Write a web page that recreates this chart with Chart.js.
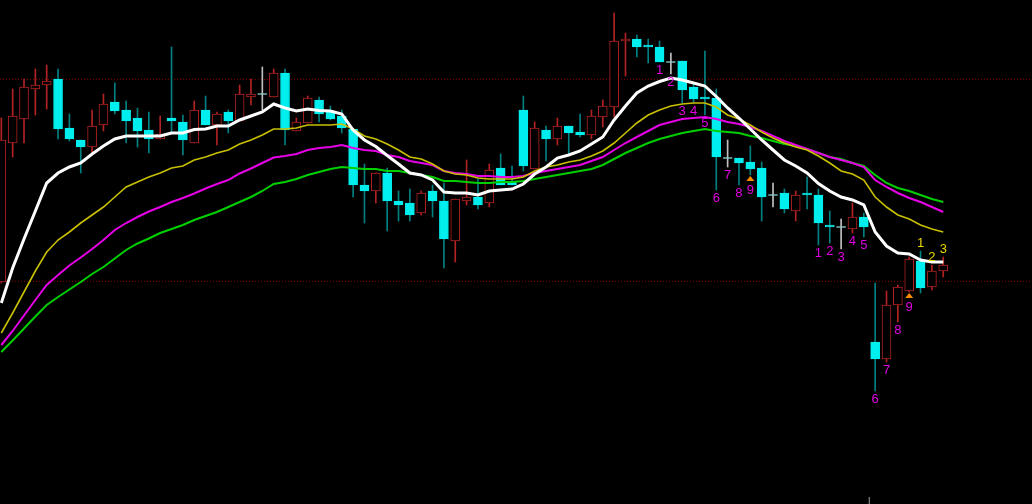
<!DOCTYPE html>
<html>
<head>
<meta charset="utf-8">
<script src="https://cdn.jsdelivr.net/npm/chart.js@4.4.1/dist/chart.umd.min.js"></script>
<style>
    html, body { margin: 0; padding: 0; background: #000; overflow: hidden; }
    canvas { display: block; }
</style>
</head>
<body>
<canvas id="chart" width="1032" height="504"></canvas>
<script>
// candles, oldest first
const opens = [
    218, 357, 381, 411, 415, 421, 372, 360, 353, 375,
    398, 390, 382, 370, 361, 382, 378, 357, 390, 375,
    388, 379, 403, 406, 403, 427, 369, 377, 400, 388,
    384, 371, 315, 309, 327, 299, 297, 287, 309, 299,
    259, 299, 303, 297, 332, 318, 390, 331, 370, 361,
    374, 368, 365, 383, 393, 459, 461, 455, 453, 438,
    439, 413, 403, 402, 342, 342, 338, 332, 305, 307,
    289, 307, 305, 275, 273, 271, 283, 158, 141, 195,
    209, 239, 213, 229
];
const highs = [
    382, 411, 421, 431, 435, 431, 386, 360, 390, 406,
    417, 399, 392, 388, 384, 453, 385, 399, 404, 388,
    390, 415, 421, 433, 431, 431, 382, 404, 403, 394,
    390, 371, 336, 327, 332, 309, 311, 309, 315, 317,
    301, 340, 321, 336, 346, 334, 404, 378, 374, 382,
    374, 386, 390, 400, 487, 467, 465, 461, 459, 447,
    439, 417, 449, 411, 360, 342, 354, 338, 317, 311,
    309, 323, 311, 289, 281, 297, 287, 217, 209, 215,
    243, 249, 235, 243
];
const lows = [
    217, 343, 357, 385, 391, 361, 359, 327, 347, 369,
    386, 357, 353, 347, 361, 368, 345, 357, 375, 355,
    367, 379, 395, 390, 403, 355, 369, 377, 378, 380,
    367, 303, 277, 297, 269, 279, 279, 285, 283, 232,
    238, 295, 291, 293, 315, 315, 329, 331, 339, 355,
    346, 363, 361, 373, 383, 424, 443, 437, 438, 426,
    397, 397, 385, 310, 333, 315, 325, 279, 293, 287,
    279, 291, 255, 257, 251, 267, 263, 109, 138, 178,
    208, 207, 210, 223
];
const closes = [
    360, 384, 413, 415, 419, 371, 361, 353, 374, 396,
    389, 379, 369, 361, 366, 379, 360, 390, 375, 386,
    379, 406, 406, 406, 427, 370, 378, 402, 386, 381,
    372, 315, 309, 327, 299, 295, 285, 307, 299, 261,
    301, 303, 295, 330, 315, 315, 334, 372, 361, 374,
    367, 365, 384, 394, 459, 461, 453, 453, 438, 438,
    410, 401, 401, 343, 342, 337, 331, 303, 305, 291,
    305, 305, 277, 273, 273, 283, 273, 141, 195, 213,
    241, 212, 229, 235
];

// moving averages
const maWhite = [
    197, 232, 261, 289, 317, 327, 333, 337, 346, 354,
    361, 364, 364, 364, 364, 367, 367, 370.5, 371, 374,
    374, 380, 384, 388, 396, 392, 389, 391, 389.5, 389,
    386, 370, 360, 353.5, 344.5, 336, 327, 325, 320, 308,
    307, 307, 305, 309, 310, 311, 316, 326, 333, 342,
    345, 349, 356, 363, 380, 394, 407, 414, 418.5, 422,
    420, 417, 414, 403.5, 392, 382, 371, 360, 350, 340,
    334, 327, 316.5, 309, 303, 300, 295, 268, 254, 247,
    246, 240, 238, 238
];
const maYellow = [
    167, 187, 208, 229, 248, 260, 268, 277, 285, 293,
    303, 313, 318, 323, 327, 332, 334, 340, 343, 347,
    350, 356, 360, 365, 371, 371, 372, 375, 375, 375,
    376, 371, 364, 361, 356, 350, 343, 341, 336, 329,
    326, 325, 322, 321, 321, 321, 323, 329, 333, 335,
    338, 340, 344, 349, 357, 367, 377, 385, 390, 394,
    396, 397, 397, 393, 385, 381, 375, 368, 362, 357,
    353, 350, 344, 337, 329, 326, 320, 303, 293, 285,
    281, 275, 271, 268
];
const maMagenta = [
    155, 169, 184.5, 200, 215, 225, 234.5, 242.5, 251, 260,
    270, 277, 283, 288.5, 293, 298, 302, 306.5, 311.5, 316,
    320, 326.5, 331.5, 337, 342.5, 344, 346, 350, 352, 353,
    355, 352, 350, 349, 345, 343, 339, 337, 335, 329,
    327, 326, 324, 324, 323, 323, 324, 327, 329, 331,
    333, 335, 339, 343, 350, 357, 363, 369, 375, 378,
    381, 382, 383, 381, 378, 376, 373, 369, 364, 359,
    355, 351, 347, 343, 340, 337, 333, 320, 313, 307,
    302, 298, 293, 288
];
const maGreen = [
    148, 159.5, 171.5, 183.5, 195, 203, 210.5, 218, 226, 233,
    241.5, 250, 256.5, 261.5, 267, 271, 275, 280, 284, 288,
    293, 298, 303, 309, 316, 318, 321, 325, 328, 331,
    333, 332, 331, 331, 329, 329, 327, 325, 323, 319,
    319, 318, 317, 317, 318, 318, 319, 321, 323, 325,
    327, 329, 331, 335, 341, 347, 352, 357, 361, 364,
    367, 369, 371, 369, 368, 367, 364, 362, 359, 356,
    354, 351, 347, 343, 341, 337, 334, 325, 317, 312,
    309, 305, 301, 298
];

// dotted price levels
const levels = [420.7, 218.7];

// setup counts (bar index + count)
const buyBars = [58, 59, 60, 61, 62, 63, 64, 65, 66, 72, 73, 74, 75, 76, 77, 78, 79, 80];
const buyCounts = [1, 2, 3, 4, 5, 6, 7, 8, 9, 1, 2, 3, 4, 5, 6, 7, 8, 9];
const sellBars = [81, 82, 83];
const sellCounts = [1, 2, 3];
const arrowBars = [66, 80];

const separatorBar = 76.48;

const X_MIN = -0.115;
const X_MAX = 90.82;

const UP = '#b22222';
const DOWN_BODY = '#00eeee';
const DOWN_WICK = '#008080';
const DOJI = '#c0c0c0';

const bars = opens.map((_, i) => i);
const isBull = i => closes[i] > opens[i];
const isDoji = i => closes[i] === opens[i];
const line = arr => arr.map((v, i) => ({ x: i, y: v }));

const countsPlugin = {
    id: 'setupCounts',
    afterDatasetsDraw(chart) {
        const { ctx, scales: { x, y } } = chart;
        ctx.save();
        ctx.font = '13px "Liberation Sans", Arial, sans-serif';
        ctx.textAlign = 'center';
        ctx.textBaseline = 'middle';

        arrowBars.forEach(b => {
            const px = x.getPixelForValue(b);
            const py = y.getPixelForValue(lows[b]) + 1;
            ctx.fillStyle = '#ff8c00';
            ctx.beginPath();
            ctx.moveTo(px, py);
            ctx.lineTo(px + 4, py + 5);
            ctx.lineTo(px - 4, py + 5);
            ctx.closePath();
            ctx.fill();
        });

        ctx.fillStyle = '#e000e0';
        buyBars.forEach((b, k) => {
            const px = x.getPixelForValue(b);
            let py = y.getPixelForValue(lows[b]) + 8;
            if (arrowBars.includes(b)) py += 7;
            ctx.fillText(String(buyCounts[k]), px, py);
        });

        ctx.fillStyle = '#e8d800';
        sellBars.forEach((b, k) => {
            const px = x.getPixelForValue(b);
            const py = y.getPixelForValue(highs[b]) - 7.5;
            ctx.fillText(String(sellCounts[k]), px, py);
        });
        ctx.restore();
    }
};

new Chart(document.getElementById('chart'), {
    type: 'bar',
    data: {
        datasets: [
            {
                type: 'line', label: 'MA fast', data: line(maWhite),
                borderColor: '#ffffff', borderWidth: 3, pointRadius: 0, tension: 0, order: 0
            },
            {
                type: 'line', label: 'MA 2', data: line(maYellow),
                borderColor: '#c8c000', borderWidth: 1.6, pointRadius: 0, tension: 0, order: 1
            },
            {
                type: 'line', label: 'MA 3', data: line(maMagenta),
                borderColor: '#e600e6', borderWidth: 2, pointRadius: 0, tension: 0, order: 1.5
            },
            {
                type: 'line', label: 'MA 4', data: line(maGreen),
                borderColor: '#00d000', borderWidth: 2, pointRadius: 0, tension: 0, order: 2
            },
            {
                type: 'line', label: 'doji', showLine: false,
                data: bars.filter(isDoji).map(i => ({ x: i, y: opens[i] })),
                pointStyle: 'line', pointRadius: 4.5, borderColor: DOJI, borderWidth: 1, order: 3
            },
            {
                type: 'bar', label: 'body', grouped: false, barThickness: 9,
                data: bars.map(i => ({ x: i, y: [opens[i], closes[i]] })),
                backgroundColor: c => isBull(c.dataIndex) ? '#000000' : DOWN_BODY,
                borderColor: c => isBull(c.dataIndex) ? UP : DOWN_BODY,
                borderWidth: c => isDoji(c.dataIndex) ? 0 : 1,
                borderSkipped: false, order: 4
            },
            {
                type: 'bar', label: 'wick', grouped: false, barThickness: 1,
                data: bars.map(i => ({ x: i, y: [lows[i], highs[i]] })),
                backgroundColor: c => isDoji(c.dataIndex) ? DOJI : (isBull(c.dataIndex) ? UP : DOWN_WICK),
                borderWidth: 0, order: 5
            },
            ...levels.map(v => ({
                type: 'line', label: 'level', data: [{ x: X_MIN, y: v }, { x: X_MAX, y: v }],
                borderColor: '#8b0000', borderWidth: 1, borderDash: [1, 2], pointRadius: 0, order: 10
            })),
            {
                type: 'line', label: 'separator', data: [{ x: separatorBar, y: -4 }, { x: separatorBar, y: 3 }],
                borderColor: '#a0a0a0', borderWidth: 1, pointRadius: 0, order: 10
            }
        ]
    },
    options: {
        responsive: false,
        devicePixelRatio: 1,
        animation: false,
        layout: { padding: 0, autoPadding: false },
        plugins: { legend: { display: false }, tooltip: { enabled: false } },
        scales: {
            x: { type: 'linear', min: X_MIN, max: X_MAX, offset: false, display: false },
            y: { type: 'linear', min: -4, max: 500, display: false }
        }
    },
    plugins: [countsPlugin]
});
</script>
</body>
</html>
